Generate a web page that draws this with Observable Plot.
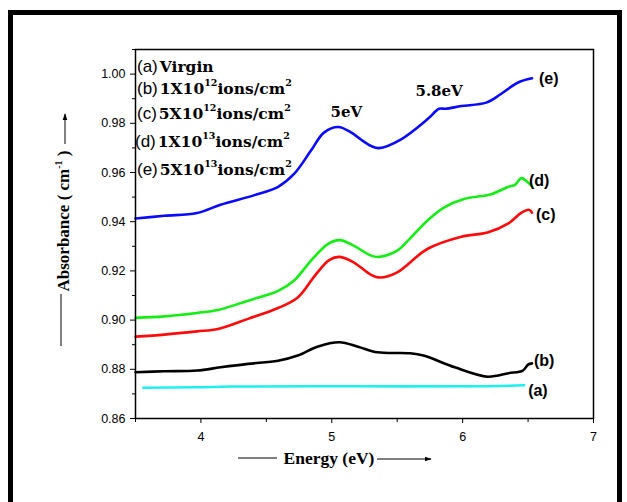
<!DOCTYPE html>
<html>
<head>
<meta charset="utf-8">
<script src="https://cdn.jsdelivr.net/npm/d3@7"></script>
<script src="https://cdn.jsdelivr.net/npm/@observablehq/plot@0.6"></script>
<style>
  html, body { margin: 0; padding: 0; background: #fff; }
  #wrap { position: relative; width: 627px; height: 502px; overflow: hidden; }
  #chart svg { display: block; overflow: visible; }
  #border { position: absolute; left: 8px; top: 10px; width: 604px; height: 540px; pointer-events: none;
            border-left: 5px solid #000; border-top: 5px solid #000; border-right: 5px solid #000; background: none; }
</style>
</head>
<body>
<div id="wrap"><div id="chart"></div><div id="border"></div></div>
<script>
// UV-Vis absorbance spectra, virgin film and ion-irradiated films
const seriesKeys = ["(a)", "(b)", "(c)", "(d)", "(e)"];

const energyA = [3.56, 3.97, 4.23, 5.22, 6.19, 6.47];
const absA    = [0.8725, 0.8727, 0.8730, 0.8731, 0.8731, 0.8735];

const energyB = [3.50, 3.72, 3.97, 4.15, 4.36, 4.59, 4.74, 4.89, 5.06, 5.20, 5.35, 5.60, 5.70, 5.94, 6.19, 6.35, 6.46, 6.50, 6.53];
const absB    = [0.8788, 0.8792, 0.8795, 0.8808, 0.8822, 0.8835, 0.8856, 0.8892, 0.8910, 0.8892, 0.8869, 0.8865, 0.8856, 0.8808, 0.8770, 0.8784, 0.8795, 0.8819, 0.8824];

const energyC = [3.50, 3.72, 3.97, 4.13, 4.36, 4.59, 4.74, 4.87, 4.98, 5.06, 5.17, 5.30, 5.37, 5.50, 5.73, 5.99, 6.19, 6.35, 6.45, 6.51, 6.53];
const absC    = [0.8933, 0.8941, 0.8954, 0.8964, 0.9005, 0.9049, 0.9092, 0.9180, 0.9244, 0.9257, 0.9234, 0.9184, 0.9173, 0.9194, 0.9289, 0.9339, 0.9356, 0.9393, 0.9437, 0.9448, 0.9437];

const energyD = [3.50, 3.72, 3.97, 4.13, 4.36, 4.59, 4.71, 4.84, 4.97, 5.06, 5.17, 5.30, 5.36, 5.50, 5.58, 5.73, 5.86, 6.01, 6.22, 6.35, 6.40, 6.45, 6.50, 6.53];
const absD    = [0.9009, 0.9015, 0.9029, 0.9041, 0.9079, 0.9119, 0.9160, 0.9241, 0.9309, 0.9325, 0.9302, 0.9262, 0.9257, 0.9282, 0.9322, 0.9404, 0.9458, 0.9492, 0.9512, 0.9542, 0.9550, 0.9577, 0.9559, 0.9545];

const energyE = [3.50, 3.72, 3.97, 4.15, 4.41, 4.59, 4.71, 4.84, 4.94, 5.05, 5.15, 5.22, 5.30, 5.36, 5.53, 5.73, 5.82, 5.87, 5.99, 6.18, 6.29, 6.42, 6.53];
const absE    = [0.9413, 0.9424, 0.9435, 0.9469, 0.9508, 0.9542, 0.9593, 0.9688, 0.9762, 0.9785, 0.9762, 0.9735, 0.9708, 0.9699, 0.9735, 0.9816, 0.9859, 0.9859, 0.9870, 0.9884, 0.9918, 0.9965, 0.9983];

// legend text: sample names and fluences
const legendNames   = ["Virgin", null, null, null, null];
const doseMantissa  = [null, "1X10", "5X10", "1X10", "5X10"];
const doseExponent  = [null, "12", "12", "13", "13"];
const doseUnit      = "ions/cm";

// band positions marked on curve (e)
const bandLabels = ["5eV", "5.8eV"];
const bandEnergy = [5.05, 5.82];
const bandAbs    = [0.9785, 0.9859];

const xDomain = [3.5, 7];
const yDomain = [0.86, 1.01];
const xTicks = [4, 5, 6, 7];
const xMinor = [3.5, 4.5, 5.5, 6.5];
const yTicks = [0.86, 0.88, 0.90, 0.92, 0.94, 0.96, 0.98, 1.00];
const yMinor = [0.87, 0.89, 0.91, 0.93, 0.95, 0.97, 0.99, 1.01];

const columns = [[energyA, absA], [energyB, absB], [energyC, absC], [energyD, absD], [energyE, absE]];
const rows = columns.flatMap(([E, A], k) => E.map((e, i) => ({series: seriesKeys[k], energy: e, absorbance: A[i]})));

const colors = {"(a)": "#1cf0f0", "(b)": "#000000", "(c)": "#ff0a0a", "(d)": "#14ee14", "(e)": "#0a0aff"};
const endOffset = {"(a)": [4, 6], "(b)": [2, -3], "(c)": [4, 2], "(d)": [-3, -5], "(e)": [7, 1]};

const sans = "Arial, 'Liberation Sans', sans-serif";
const serif = "'DejaVu Serif', serif";

const lineMarks = seriesKeys.map(k => Plot.line(rows.filter(d => d.series === k), {
  x: "energy", y: "absorbance", stroke: colors[k], strokeWidth: 2.6, curve: "catmull-rom"
}));
const endLabels = seriesKeys.map(k => Plot.text(rows.filter(d => d.series === k), Plot.selectLast({
  x: "energy", y: "absorbance", text: "series", textAnchor: "start",
  dx: endOffset[k][0], dy: endOffset[k][1],
  fontFamily: sans, fontWeight: "bold", fontSize: 16, fill: "#000"
})));
const bands = bandLabels.map((t, i) => ({label: t, energy: bandEnergy[i], absorbance: bandAbs[i]}));
const bandDx = [8, 0], bandDy = [-15, -18];

const plot = Plot.plot({
  width: 627, height: 502,
  marginLeft: 135, marginRight: 34, marginTop: 49, marginBottom: 84,
  style: {fontFamily: sans, fontSize: "12.5px", color: "#000", background: "transparent"},
  x: {domain: xDomain},
  y: {domain: yDomain},
  marks: [
    Plot.axisX({ticks: xTicks, tickSize: 5, tickPadding: 9, tickFormat: d3.format("d"), label: null, fontSize: 12.5}),
    Plot.axisX({ticks: xMinor, tickSize: 4, tickFormat: () => "", label: null}),
    Plot.axisY({ticks: yTicks, tickSize: 5, tickPadding: 5, tickFormat: d3.format(".2f"), label: null, fontSize: 12.5}),
    Plot.axisY({ticks: yMinor, tickSize: 3, tickFormat: () => "", label: null}),
    ...lineMarks,
    ...endLabels,
    ...bands.map((b, i) => Plot.text([b], {x: "energy", y: "absorbance", text: "label", dx: bandDx[i], dy: bandDy[i],
      fontFamily: serif, fontWeight: "bold", fontSize: 15, fill: "#000"})),
    Plot.frame({stroke: "#000", strokeWidth: 1.5})
  ]
});
document.getElementById("chart").append(plot);

const svg = d3.select(plot);
const [bx0, bx1] = plot.scale("x").range;
const [by0, by1] = plot.scale("y").range;
const boxL = Math.min(bx0, bx1), boxT = Math.min(by0, by1);

// legend
const legendBase = [23, 45, 70, 98, 126];
const legendX = [2, 2, 2, 0, 2];
const lg = svg.append("g").attr("text-anchor", "start");
seriesKeys.forEach((k, i) => {
  const t = lg.append("text").attr("x", boxL + legendX[i]).attr("y", boxT + legendBase[i])
    .attr("fill", "#000").attr("text-anchor", "start");
  t.append("tspan").attr("font-family", sans).attr("font-size", 17).text(k);
  const b = t.append("tspan").attr("font-family", serif).attr("font-weight", "bold").attr("font-size", 15.5).attr("dx", 2);
  if (legendNames[i]) { b.text(legendNames[i]); return; }
  b.text(doseMantissa[i]);
  t.append("tspan").attr("font-family", serif).attr("font-weight", "bold").attr("font-size", 9.5).attr("dy", -8).text(doseExponent[i]);
  t.append("tspan").attr("font-family", serif).attr("font-weight", "bold").attr("font-size", 15.5).attr("dy", 8).text(doseUnit);
  t.append("tspan").attr("font-family", serif).attr("font-weight", "bold").attr("font-size", 9.5).attr("dy", -8).text("2");
});

// axis titles with their arrows
const defs = svg.append("defs");
defs.append("marker").attr("id", "ahead").attr("viewBox", "0 0 10 10").attr("refX", 9).attr("refY", 5)
  .attr("markerWidth", 7).attr("markerHeight", 7).attr("orient", "auto")
  .append("path").attr("d", "M0,1.5 L10,5 L0,8.5 Z").attr("fill", "#000");

const titles = svg.append("g").attr("fill", "#000");
titles.append("text").attr("x", 329).attr("y", 464).attr("text-anchor", "middle")
  .attr("font-family", "'Liberation Serif', 'Times New Roman', serif").attr("font-weight", "bold").attr("font-size", 17.5)
  .text("Energy (eV)");
titles.append("line").attr("x1", 238).attr("x2", 277).attr("y1", 458).attr("y2", 458).attr("stroke", "#000").attr("stroke-width", 1);
titles.append("line").attr("x1", 377).attr("x2", 431).attr("y1", 459).attr("y2", 459).attr("stroke", "#000").attr("stroke-width", 1).attr("marker-end", "url(#ahead)");

const ty = titles.append("text").attr("transform", "translate(69,221) rotate(-90)").attr("text-anchor", "middle")
  .attr("font-family", "'Liberation Serif', 'Times New Roman', serif").attr("font-weight", "bold").attr("font-size", 17);
ty.append("tspan").text("Absorbance ( cm");
ty.append("tspan").attr("font-size", 10).attr("dy", -7).text("-1");
ty.append("tspan").attr("dy", 7).text(" )");
titles.append("line").attr("x1", 65).attr("x2", 65).attr("y1", 144).attr("y2", 114).attr("stroke", "#000").attr("stroke-width", 1).attr("marker-end", "url(#ahead)");
titles.append("line").attr("x1", 61).attr("x2", 61).attr("y1", 294).attr("y2", 346).attr("stroke", "#000").attr("stroke-width", 1);
</script>
</body>
</html>
